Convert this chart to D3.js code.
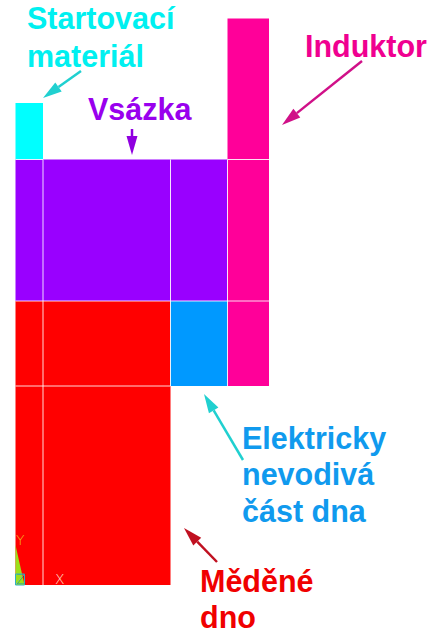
<!DOCTYPE html>
<html><head><meta charset="utf-8">
<script src="https://cdn.jsdelivr.net/npm/d3@7/dist/d3.min.js"></script>
<style>html,body{margin:0;padding:0;background:#fff}svg{display:block}</style>
</head><body><svg id="c" width="438" height="640"></svg>
<script>
// model coordinates of the mesh
const xEdges = [0, 27.5, 155, 212, 253.5];
const yEdges = [0, 199, 284, 425.5, 482, 566.5];
// cells: column, first row, last row (exclusive), material
const cellCol = [0, 0, 1, 2, 3, 0, 1, 2, 3, 0, 1, 3];
const cellRow = [3, 2, 2, 2, 2, 1, 1, 1, 1, 0, 0, 3];
const cellEnd = [4, 3, 3, 3, 3, 2, 2, 2, 2, 1, 1, 5];
const cellMat = ["start","charge","charge","charge","ind","cu","cu","ins","ind","cu","cu","ind"];
const materials = ["start","charge","ind","cu","ins"];
const matColors = ["#00ffff","#9900ff","#ff0099","#ff0000","#0099ff"];

const labelTexts = [["Startovací","materiál"],["Vsázka"],["Induktor"],["Elektricky","nevodivá","část dna"],["Měděné","dno"]];
const labelColors = ["#00f0f0","#9900ee","#f00090","#109aee","#f00000"];
const arrowColors = ["#20d0d0","#9000e0","#d01088","#20d0d0","#c01020"];

const x=d3.scaleLinear().domain([0,253.5]).range([15.5,269]);
const y=d3.scaleLinear().domain([0,566.5]).range([585,18.5]);
const col=d3.scaleOrdinal(materials,matColors);
const svg=d3.select("#c");

const cells=cellCol.map((c,i)=>({c,r:cellRow[i],e:cellEnd[i],m:cellMat[i]}));
svg.append("g").selectAll("rect").data(cells).join("rect")
  .attr("x",d=>x(xEdges[d.c])).attr("width",d=>x(xEdges[d.c+1])-x(xEdges[d.c]))
  .attr("y",d=>y(yEdges[d.e])).attr("height",d=>y(yEdges[d.r])-y(yEdges[d.e]))
  .attr("fill",d=>col(d.m));
// white mesh lines between neighbouring cells
const gl=svg.append("g").attr("stroke","#fff").attr("stroke-opacity",.85).attr("stroke-width",1);
const has=(c,r)=>cells.some(d=>d.c===c&&d.r===r);
cells.forEach(d=>{
  if(has(d.c+1,d.r)) gl.append("line").attr("x1",x(xEdges[d.c+1])).attr("x2",x(xEdges[d.c+1])).attr("y1",y(yEdges[d.r])).attr("y2",y(yEdges[d.r+1]));
  if(has(d.c,d.e)) gl.append("line").attr("x1",x(xEdges[d.c])).attr("x2",x(xEdges[d.c+1])).attr("y1",y(yEdges[d.e])).attr("y2",y(yEdges[d.e]));
});

// labels
const labelX=[27,88,305,242,200];
const labelY=[[29,67],[120],[57],[449,485,522],[592,628]];
const gt=svg.append("g").attr("font-family","'Liberation Sans', Arial, sans-serif").attr("font-weight","bold").attr("font-size",30.5);
labelTexts.forEach((ls,i)=>ls.forEach((t,j)=>{
  gt.append("text").attr("x",labelX[i]).attr("y",labelY[i][j]).attr("fill",labelColors[i]).text(t);
}));

// arrows: tail -> tip
const arrows=[[81,71,43,98],[132,129,132,155],[362,61,282,125],[243,460,204,394],[217,562,184,528]];
arrows.forEach((a,i)=>{
  const [x1,y1,x2,y2]=a, ang=Math.atan2(y2-y1,x2-x1), L=19, w=5.5;
  const bx=x2-L*Math.cos(ang), by=y2-L*Math.sin(ang), px=-Math.sin(ang), py=Math.cos(ang);
  svg.append("line").attr("x1",x1).attr("y1",y1).attr("x2",bx).attr("y2",by).attr("stroke",arrowColors[i]).attr("stroke-width",2.5);
  svg.append("path").attr("d",d3.line()([[x2,y2],[bx+px*w,by+py*w],[bx-px*w,by-py*w]])+"Z").attr("fill",arrowColors[i]);
});

// triad
svg.append("path").attr("d",d3.line()([[x(0),y(40)],[x(9),y(0)],[x(0),y(0)]])+"Z").attr("fill","#9be01a");
svg.append("path").attr("d",d3.line()([[x(0),y(11)],[x(9),y(11)],[x(9),y(0)],[x(0),y(0)]])+"Z").attr("fill","none").attr("stroke","#30b0c0");
const ax=svg.append("g").attr("font-family","'DejaVu Sans', sans-serif").attr("font-weight",200).attr("font-size",14);
ax.append("text").attr("x",16).attr("y",545).attr("fill","#f5b020").text("Y");
ax.append("text").attr("x",55).attr("y",584).attr("fill","#ffe0d0").text("X");
ax.append("text").attr("x",16).attr("y",584).attr("fill","#30a0a0").text("Z");
</script></body></html>
